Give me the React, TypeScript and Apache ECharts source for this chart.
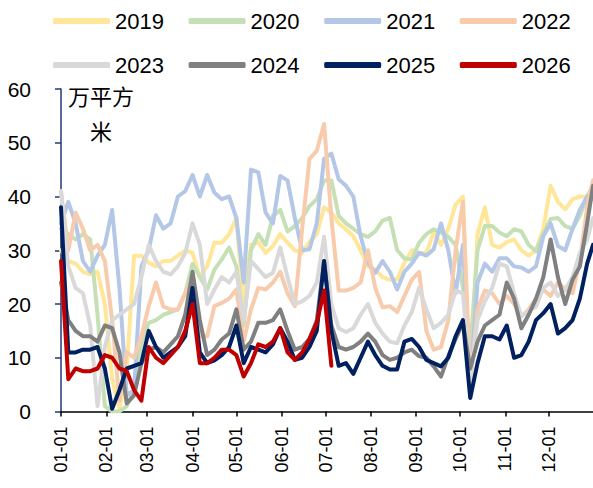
import React, { useEffect, useRef } from "react";
import * as echarts from "echarts";

// ---- axis categories (calendar days, non-leap year) ----
const MONTH_LENGTHS = [31, 28, 31, 30, 31, 30, 31, 31, 30, 31, 30, 31];
const CATEGORIES: string[] = [];
MONTH_LENGTHS.forEach((n, m) => {
  for (let d = 1; d <= n; d++) {
    CATEGORIES.push(String(m + 1).padStart(2, "0") + "-" + String(d).padStart(2, "0"));
  }
});

// sample days (day index from 01-01) at which values were read
const SAMPLE_DAYS = [
  0, 5, 10, 15, 20, 25, 30, 35, 40, 45,
  50, 55, 60, 65, 70, 75, 80, 85, 90, 95,
  100, 105, 110, 115, 120, 125, 130, 135, 140, 145,
  150, 155, 160, 165, 170, 175, 180, 185, 190, 195,
  200, 205, 210, 215, 220, 225, 230, 235, 240, 245,
  250, 255, 260, 265, 270, 275, 280, 285, 290, 295,
  300, 305, 310, 315, 320, 325, 330, 335, 340, 345,
  350, 355, 360, 364,
];

const YEARS = ["2019", "2020", "2021", "2022", "2023", "2024", "2025", "2026"];
const COLORS = ["#FFE699", "#C5E0B4", "#B4C7E7", "#F8CBAD", "#D9D9D9", "#808080", "#002060", "#C00000"];

const Y2019 = [
  30, 28, 27.5, 26, 25.5, 26, 20, 6, 0.5, 8,
  29, 29, 27.7, 27, 28, 28, 29, 30, 29.5, 25,
  27, 31.4, 31.4, 33, 36, 20, 31, 31.5, 29.5, 30.8,
  33, 31.4, 30, 29.5, 31.5, 33, 38, 37, 35, 33.9,
  32.6, 30, 27, 26.4, 25, 24.5, 24.6, 27.7, 30, 29.5,
  29.5, 33.3, 31, 34, 38.5, 40, 5, 33, 38, 31,
  30.5, 31.5, 32, 30, 29, 30, 34, 42, 39, 37.6,
  39.5, 40, 40, 41.4,
];
const Y2020 = [
  34, 33, 32, 33, 32, 18, 1, 0, 0, 1,
  4, 12.7, 16.5, 17, 18, 18.5, 19, 22, 27.5, 25,
  22.7, 26.4, 28.3, 30.5, 27, 16, 30, 33, 31, 36.4,
  37.5, 33.5, 34.5, 36, 38.2, 39.5, 43, 43, 36.4, 35,
  34, 33, 32.5, 33.5, 35.5, 36, 30, 28.5, 28.3, 31.4,
  33, 33.9, 33.3, 32.5, 31, 23, 11.5, 30, 34.5, 34.5,
  33.3, 32.6, 33.9, 33.5, 31, 29.8, 33, 35.8, 36, 34.5,
  34, 36.4, 40, 42,
];
const Y2021 = [
  35, 39, 35, 28, 26, 29, 31, 37.5, 23, 3,
  4, 27, 30, 36.5, 34, 35, 40, 41, 44, 40,
  44, 40.7, 39.5, 40, 36, 24, 45, 44.5, 37, 35,
  43.8, 43, 36, 30, 30.2, 35, 47, 48, 43.2, 42,
  40, 32.6, 27.7, 25.8, 28, 26, 22.7, 26, 27.5, 29.5,
  29, 30.2, 35, 30, 22, 31, 5.5, 24, 27.5, 26,
  28.5, 28.5, 27, 26.8, 26, 27, 32.6, 35, 30.8, 30,
  34, 37.5, 40, 39.5,
];
const Y2022 = [
  41, 30, 37, 34, 30, 31, 28, 17, 2, 11,
  10, 14, 19.6, 24, 19.5, 19, 19, 22, 24.6, 14,
  14, 19.6, 20.2, 21, 22.7, 13, 19, 23, 22.7, 24,
  26, 22, 19.6, 34, 47, 48.5, 53.5, 36, 22.5, 22.5,
  23, 24, 30, 23, 19.4, 19.6, 18.5, 21.5, 24.5, 26,
  15, 11.5, 12, 17, 30, 39, 5, 19, 22.5, 22,
  20, 21.5, 20, 17.7, 19, 21, 22.7, 21.5, 24, 22.7,
  22, 28, 38, 43,
];
const Y2023 = [
  41, 27, 23, 22, 16, 1, 12, 17, 18, 19,
  20, 25, 31, 28, 26, 25.5, 27, 29.5, 35, 31,
  20, 22.7, 25, 24, 26, 17, 28, 26.5, 25, 25.8,
  30.5, 25, 20, 20.5, 21.5, 24, 32.5, 20, 15.5, 14.8,
  15.5, 18, 20, 16.5, 14.5, 13, 12.7, 16, 18.5, 23,
  19, 15.5, 16.5, 18, 22.5, 22, 6, 17, 20.5, 23,
  27.5, 27, 22, 17.7, 18.8, 19.5, 23, 24, 21.5, 22.7,
  25, 29.5, 32, 36,
];
const Y2024 = [
  24, 17, 15, 14, 14, 13, 16, 15.5, 11, 1.5,
  3, 9, 11.5, 12, 11, 12.5, 14, 18, 26, 17,
  10.5, 11.5, 13.4, 14.5, 19, 11.5, 13, 16.5, 16.5, 17,
  19, 15, 11.5, 12, 13.5, 17, 28, 16, 12, 11.5,
  12, 13, 14.5, 13, 10.5, 9.6, 10, 11, 11.5, 10.3,
  10, 8.4, 6.5, 10.3, 13.5, 16.5, 8, 13, 16, 17,
  18, 24, 21, 15.5, 18, 21, 25, 32, 25, 20,
  24.5, 27, 35, 42,
];
const Y2025 = [
  38, 11, 11, 11.5, 11.5, 12, 8, 0.5, 4, 8,
  8.5, 9, 15, 12, 10, 11, 12, 14, 23, 11,
  9, 9.5, 10.5, 12, 16, 9, 12, 11.5, 11, 12.5,
  15.5, 13, 9.6, 10, 12, 15, 28, 15, 8.5, 9,
  7, 10, 13, 10.5, 8.5, 7.8, 7.8, 13, 13.5, 12,
  9.6, 9, 8.4, 10, 14, 17, 2.5, 9, 14, 14,
  13.4, 16, 10, 10.5, 13, 17, 18.3, 20, 14.5, 15.5,
  17, 21, 27.5, 31,
];
const Y2026 = [
  28, 6, 8, 7.5, 7.5, 8, 10.5, 10, 8, 7.5,
  4, 2, 12, 10, 9, 10.5, 12, 15, 20, 9,
  9, 10, 11.5, 11.5, 10.5, 6.5, 9, 12.5, 12, 13,
  15.5, 11, 9.6, 11, 13.5, 16.5, 22.5, 8.5,
];
const SERIES_VALUES = [Y2019, Y2020, Y2021, Y2022, Y2023, Y2024, Y2025, Y2026];

const Y_TICKS = { min: 0, max: 60, interval: 10 };

const LATIN = "'Liberation Sans', Arial, sans-serif";
const CJK = "'Noto Sans CJK SC', sans-serif";

export default function App() {
  const ref = useRef<HTMLDivElement>(null);

  useEffect(() => {
    if (!ref.current) return;
    const chart = echarts.init(ref.current, undefined, { renderer: "svg" });
    const isMonthStart = (_i: number, v: string) => v.endsWith("-01");

    const option: any = {
      animation: false,
      backgroundColor: "#fff",
      grid: { left: 61, right: 0, top: 89, bottom: 76.5, containLabel: false },
      legend: YEARS.map((y, i) => ({
        data: [y],
        left: 48 + (i % 4) * 135.6,
        top: i < 4 ? 5 : 49,
        icon: "roundRect",
        itemWidth: 57,
        itemHeight: 6,
        itemGap: 0,
        selectedMode: false,
        textStyle: { fontSize: 22, color: "#000", fontFamily: "'Liberation Sans Narrow', " + LATIN },
      })),
      xAxis: {
        type: "category",
        data: CATEGORIES,
        boundaryGap: false,
        axisLine: { show: true, lineStyle: { color: "#000", width: 1.5 } },
        axisTick: { show: true, interval: isMonthStart, length: 5, lineStyle: { color: "#000", width: 1.5 } },
        axisLabel: {
          interval: isMonthStart,
          rotate: 90,
          fontSize: 18,
          margin: 15,
          color: "#000",
          fontFamily: LATIN,
        },
        splitLine: { show: false },
      },
      yAxis: {
        type: "value",
        min: Y_TICKS.min,
        max: Y_TICKS.max,
        interval: Y_TICKS.interval,
        axisLine: { show: true, lineStyle: { color: "#1F3A7A", width: 1.5 } },
        axisTick: { show: true, length: 6, lineStyle: { color: "#1F3A7A", width: 1.5 } },
        axisLabel: { fontSize: 21, color: "#000", margin: 30, fontFamily: LATIN },
        splitLine: { show: false },
      },
      graphic: [
        {
          type: "text",
          x: 101,
          y: 77,
          style: {
            text: "万平方\n米",
            fill: "#000",
            font: "22px " + CJK,
            align: "center",
            verticalAlign: "top",
            lineHeight: 35,
          },
        },
      ],
      series: YEARS.map((y, i) => ({
        name: y,
        type: "line",
        showSymbol: false,
        symbol: "none",
        clip: true,
        z: 2 + i,
        lineStyle: { width: 4, color: COLORS[i], cap: "round", join: "round" },
        itemStyle: { color: COLORS[i] },
        emphasis: { disabled: true },
        data: SERIES_VALUES[i].map((v, k) => [SAMPLE_DAYS[k], v]),
      })),
    };
    chart.setOption(option);
    return () => chart.dispose();
  }, []);

  return (
    <div
      ref={ref}
      style={{ position: "fixed", left: 0, top: 0, width: 593, height: 488 }}
    />
  );
}
